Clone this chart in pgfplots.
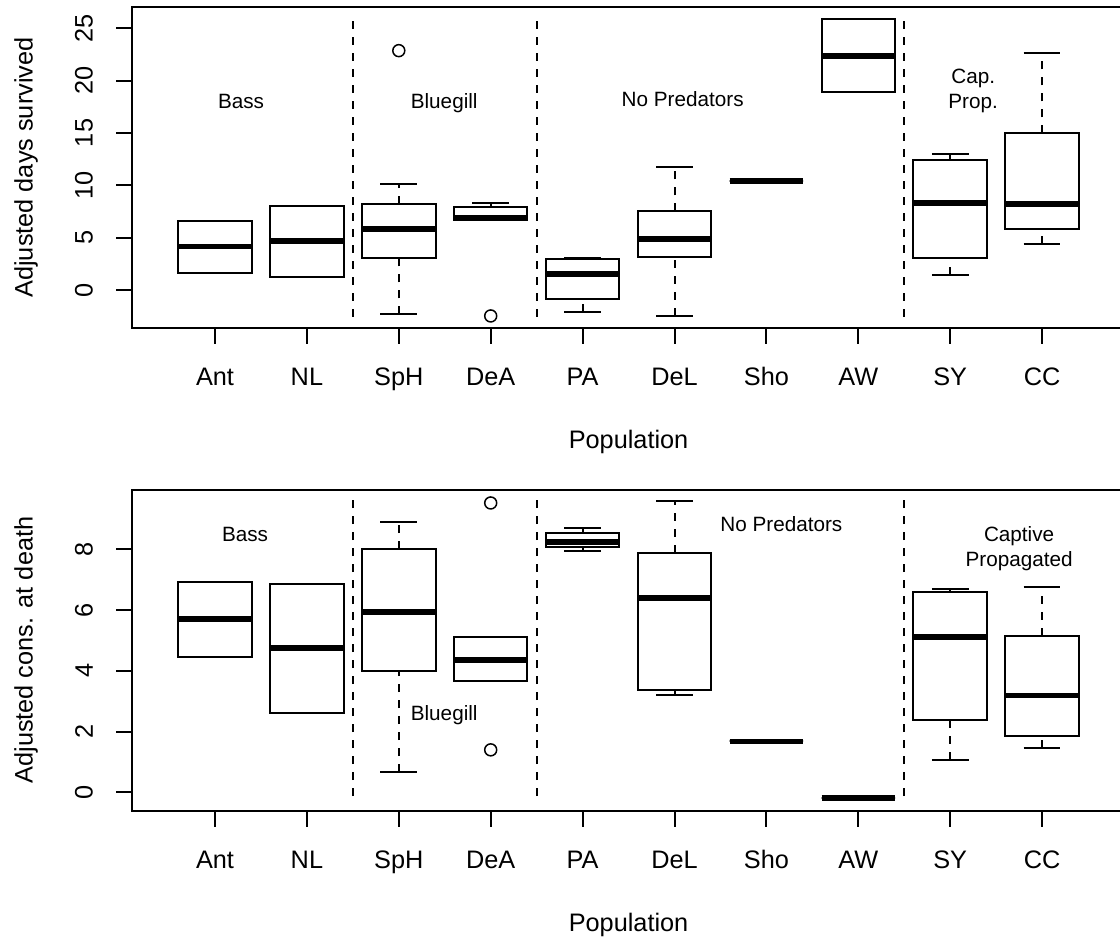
\documentclass[border=0pt]{standalone}
\usepackage{pgfplots}
\pgfplotsset{compat=1.18}
\usepgfplotslibrary{statistics}
\usepackage{fontspec}
\setmainfont{Liberation Sans}
\newcommand{\bigf}{\fontsize{12.65}{15}\selectfont}
\newcommand{\smf}{\fontsize{10.35}{12.5}\selectfont}
\begin{document}
\begin{tikzpicture}
\pgfplotsset{
  common/.style={
    scale only axis, width=496.25pt, height=160.5pt,
    xmin=0.1, xmax=10.9,
    xtick={1,...,10},
    xticklabels={Ant,NL,SpH,DeA,PA,DeL,Sho,AW,SY,CC},
    tick pos=left, tick align=outside, major tick length=8pt,
    every tick/.style={black, line width=1pt},
    axis line style={line width=1pt},
    tick label style={font=\bigf, inner sep=0pt},
    label style={font=\bigf},
    /pgf/number format/assume math mode=true,
    xticklabel style={anchor=north, text height=9.1pt, text depth=0pt},
    yticklabel style={rotate=90, anchor=south},
    xticklabel shift=11.5pt,
    yticklabel shift=11.5pt,
    xlabel={Population},
    xlabel style={at={(axis description cs:0.5,-0.355)}, anchor=center},
    ylabel style={at={(axis description cs:-0.107,0.5)}, anchor=center},
    boxplot/draw direction=y,
    boxplot/box extend=0.8,
    boxplot/whisker extend=0.4,
    boxplot/every box/.style={line width=1pt},
    boxplot/every median/.style={line width=2.85pt},
    boxplot/draw/lower whisker/.code={%
      \draw[line width=1pt, dash pattern=on 4pt off 4pt]
        (boxplot box cs:\pgfplotsboxplotvalue{lower whisker},0.5) --
        (boxplot box cs:\pgfplotsboxplotvalue{lower quartile},0.5);
      \draw[line width=1pt]
        (boxplot whisker cs:\pgfplotsboxplotvalue{lower whisker},0) --
        (boxplot whisker cs:\pgfplotsboxplotvalue{lower whisker},1);
    },
    boxplot/draw/upper whisker/.code={%
      \draw[line width=1pt, dash pattern=on 4pt off 4pt]
        (boxplot box cs:\pgfplotsboxplotvalue{upper quartile},0.5) --
        (boxplot box cs:\pgfplotsboxplotvalue{upper whisker},0.5);
      \draw[line width=1pt]
        (boxplot whisker cs:\pgfplotsboxplotvalue{upper whisker},0) --
        (boxplot whisker cs:\pgfplotsboxplotvalue{upper whisker},1);
    },
  },
  outl/.style={black, only marks, mark=o, mark size=3pt, line width=0.75pt},
  sep/.style={black, line width=1pt, dash pattern=on 4pt off 4pt},
}
% ---------------- top panel ----------------
\begin{axis}[common, at={(66.15pt,306.5pt)}, anchor=south west,
  ymin=-3.63, ymax=27.03, ytick={0,5,10,15,20,25},
  ylabel={Adjusted days survived}]
\addplot[black, boxplot prepared={draw position=1, lower whisker=1.65, lower quartile=1.65, median=4.14, upper quartile=6.59, upper whisker=6.59}] coordinates {};
\addplot[black, boxplot prepared={draw position=2, lower whisker=1.24, lower quartile=1.24, median=4.68, upper quartile=8.05, upper whisker=8.05}] coordinates {};
\addplot[black, boxplot prepared={draw position=3, lower whisker=-2.32, lower quartile=3.03, median=5.80, upper quartile=8.21, upper whisker=10.12}] coordinates {};
\addplot[black, boxplot prepared={draw position=4, lower whisker=6.72, lower quartile=6.72, median=6.90, upper quartile=7.93, upper whisker=8.34}] coordinates {};
\addplot[black, boxplot prepared={draw position=5, lower whisker=-2.07, lower quartile=-0.89, median=1.53, upper quartile=2.96, upper whisker=3.05}] coordinates {};
\addplot[black, boxplot prepared={draw position=6, lower whisker=-2.48, lower quartile=3.18, median=4.84, upper quartile=7.52, upper whisker=11.72}] coordinates {};
\addplot[black, boxplot prepared={draw position=7, lower whisker=10.38, lower quartile=10.38, median=10.38, upper quartile=10.38, upper whisker=10.38}] coordinates {};
\addplot[black, boxplot prepared={draw position=8, lower whisker=18.88, lower quartile=18.88, median=22.38, upper quartile=25.85, upper whisker=25.85}] coordinates {};
\addplot[black, boxplot prepared={draw position=9, lower whisker=1.43, lower quartile=3.09, median=8.34, upper quartile=12.39, upper whisker=12.96}] coordinates {};
\addplot[black, boxplot prepared={draw position=10, lower whisker=4.39, lower quartile=5.83, median=8.19, upper quartile=14.96, upper whisker=22.67}] coordinates {};
\addplot[outl] coordinates {(3,22.86) (4,-2.48)};
\addplot[sep] coordinates {(2.5,-2.55) (2.5,26.3)};
\addplot[sep] coordinates {(4.5,-2.55) (4.5,26.3)};
\addplot[sep] coordinates {(8.5,-2.55) (8.5,26.3)};
\node[anchor=base, font=\smf] at (axis cs:1.283,17.29) {Bass};
\node[anchor=base, font=\smf] at (axis cs:3.494,17.35) {Bluegill};
\node[anchor=base, font=\smf] at (axis cs:6.089,17.5) {No Predators};
\node[anchor=base, font=\smf, align=center] at (axis cs:9.25,17.35) {Cap.\\Prop.};
\end{axis}
% ---------------- bottom panel ----------------
\begin{axis}[common, at={(66.15pt,65.2pt)}, anchor=south west,
  ymin=-0.60, ymax=9.97, ytick={0,2,4,6,8},
  ylabel={Adjusted cons. at death}]
\addplot[black, boxplot prepared={draw position=1, lower whisker=4.47, lower quartile=4.47, median=5.71, upper quartile=6.92, upper whisker=6.92}] coordinates {};
\addplot[black, boxplot prepared={draw position=2, lower whisker=2.63, lower quartile=2.63, median=4.75, upper quartile=6.87, upper whisker=6.87}] coordinates {};
\addplot[black, boxplot prepared={draw position=3, lower whisker=0.67, lower quartile=4.01, median=5.93, upper quartile=8.01, upper whisker=8.91}] coordinates {};
\addplot[black, boxplot prepared={draw position=4, lower whisker=3.67, lower quartile=3.67, median=4.36, upper quartile=5.13, upper whisker=5.13}] coordinates {};
\addplot[black, boxplot prepared={draw position=5, lower whisker=7.95, lower quartile=8.07, median=8.25, upper quartile=8.53, upper whisker=8.71}] coordinates {};
\addplot[black, boxplot prepared={draw position=6, lower whisker=3.19, lower quartile=3.38, median=6.39, upper quartile=7.89, upper whisker=9.59}] coordinates {};
\addplot[black, boxplot prepared={draw position=7, lower whisker=1.68, lower quartile=1.68, median=1.68, upper quartile=1.68, upper whisker=1.68}] coordinates {};
\addplot[black, boxplot prepared={draw position=8, lower whisker=-0.18, lower quartile=-0.18, median=-0.18, upper quartile=-0.18, upper whisker=-0.18}] coordinates {};
\addplot[black, boxplot prepared={draw position=9, lower whisker=1.07, lower quartile=2.39, median=5.11, upper quartile=6.60, upper whisker=6.70}] coordinates {};
\addplot[black, boxplot prepared={draw position=10, lower whisker=1.46, lower quartile=1.84, median=3.19, upper quartile=5.15, upper whisker=6.77}] coordinates {};
\addplot[outl] coordinates {(4,9.53) (4,1.40)};
\addplot[sep] coordinates {(2.5,-0.12) (2.5,9.8)};
\addplot[sep] coordinates {(4.5,-0.12) (4.5,9.8)};
\addplot[sep] coordinates {(8.5,-0.12) (8.5,9.8)};
\node[anchor=base, font=\smf] at (axis cs:1.327,8.27) {Bass};
\node[anchor=base, font=\smf] at (axis cs:3.494,2.37) {Bluegill};
\node[anchor=base, font=\smf] at (axis cs:7.163,8.58) {No Predators};
\node[anchor=base, font=\smf, align=center] at (axis cs:9.75,7.43) {Captive\\Propagated};
\end{axis}
\pgfresetboundingbox
\path[use as bounding box] (0,0) rectangle (560pt,470.5pt);
\end{tikzpicture}
\end{document}
